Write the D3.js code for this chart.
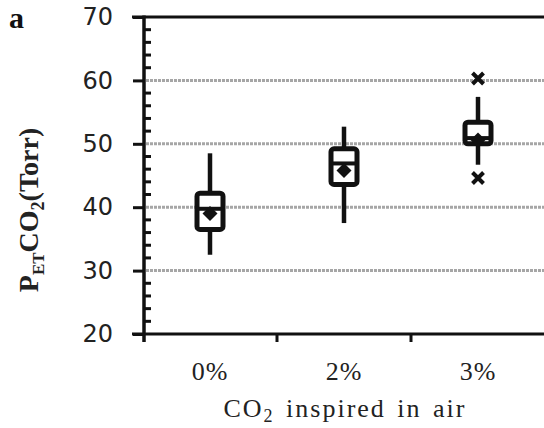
<!DOCTYPE html>
<html>
<head>
<meta charset="utf-8">
<script src="https://cdn.jsdelivr.net/npm/d3@7"></script>
<style>
  body { margin: 0; background: #fff; }
  svg { display: block; }
</style>
</head>
<body>
<div id="chart"></div>
<script>
// values (Torr)
var categories = ["0%", "2%", "3%"];
var whiskerLow = [32.5, 37.5, 46.7];
var q1 = [36.5, 43.6, 50.0];
var medians = [39.75, 46.9, 50.9];
var q3 = [42.2, 49.2, 53.4];
var whiskerHigh = [48.5, 52.7, 57.4];
var means = [39.0, 45.8, 50.6];
var outliers = [[], [], [60.3, 44.6]];
var yTicks = [20, 30, 40, 50, 60, 70];

var width = 544, height = 428;

var svg = d3.select("#chart").append("svg")
    .attr("width", width)
    .attr("height", height);

var y = d3.scaleLinear().domain([20, 70]).range([334, 17]);
var x = d3.scaleBand().domain(categories).range([143, 545]).padding(0);

// gridlines
svg.append("g").selectAll("line")
    .data(yTicks.filter(function(d) { return d > 20 && d < 70; }))
    .enter().append("line")
    .attr("x1", 146).attr("x2", width)
    .attr("y1", function(d) { return y(d); })
    .attr("y2", function(d) { return y(d); })
    .style("stroke", "#a6a6a6")
    .style("stroke-width", 3)
    .style("stroke-dasharray", "3,1");

// top border at 70
svg.append("line")
    .attr("x1", 132).attr("x2", width)
    .attr("y1", y(70)).attr("y2", y(70))
    .style("stroke", "#111").style("stroke-width", 3);

// y axis
var yAxis = d3.axisLeft(y).tickValues(yTicks).tickSize(11).tickPadding(20);
var yg = svg.append("g")
    .attr("transform", "translate(144,0)")
    .call(yAxis);
yg.select(".domain").remove();
yg.selectAll(".tick line").style("stroke", "#111").style("stroke-width", 3);
yg.selectAll(".tick text")
    .style("font-family", "'DejaVu Sans', sans-serif")
    .style("font-size", "24px")
    .style("font-weight", "normal")
    .style("fill", "#222");

// minor ticks inside
svg.append("g").selectAll("line")
    .data(d3.range(22, 70, 2).filter(function(d) { return d % 10 !== 0; }))
    .enter().append("line")
    .attr("x1", 144).attr("x2", 151)
    .attr("y1", function(d) { return y(d); })
    .attr("y2", function(d) { return y(d); })
    .style("stroke", "#111").style("stroke-width", 3);

svg.append("line")
    .attr("x1", 144).attr("x2", 144)
    .attr("y1", y(70) - 1.5).attr("y2", 342)
    .style("stroke", "#111").style("stroke-width", 3.5);

// x axis
svg.append("line")
    .attr("x1", 132).attr("x2", width)
    .attr("y1", y(20)).attr("y2", y(20))
    .style("stroke", "#111").style("stroke-width", 3);

svg.append("g").selectAll("line")
    .data(categories.slice(1))
    .enter().append("line")
    .attr("x1", function(d) { return x(d); })
    .attr("x2", function(d) { return x(d); })
    .attr("y1", y(20)).attr("y2", 342)
    .style("stroke", "#111").style("stroke-width", 3);

svg.append("g").selectAll("text")
    .data(categories)
    .enter().append("text")
    .attr("x", function(d) { return x(d) + x.bandwidth() / 2; })
    .attr("y", 380)
    .attr("text-anchor", "middle")
    .style("font-family", "'Liberation Serif', serif")
    .style("font-size", "26px")
    .style("letter-spacing", "1px")
    .style("fill", "#222")
    .text(function(d) { return d; });

// x title
var xt = svg.append("text")
    .attr("x", 345).attr("y", 417)
    .attr("text-anchor", "middle")
    .style("font-family", "'Liberation Serif', serif")
    .style("font-size", "26px")
    .style("letter-spacing", "2px")
    .style("word-spacing", "3px")
    .style("fill", "#222");
xt.append("tspan").text("CO");
xt.append("tspan").attr("dy", 5).style("font-size", "18px").text("2");
xt.append("tspan").attr("dy", -5).text(" inspired in air");

// y title
var yt = svg.append("text")
    .attr("transform", "translate(38,210) rotate(-90)")
    .attr("text-anchor", "middle")
    .style("font-family", "'Liberation Serif', serif")
    .style("font-size", "28px")
    .style("font-weight", "bold")
    .style("fill", "#222");
yt.append("tspan").text("P");
yt.append("tspan").attr("dy", 6).style("font-size", "17px").text("ET");
yt.append("tspan").attr("dy", -6).text("CO");
yt.append("tspan").attr("dy", 6).style("font-size", "18px").text("2");
yt.append("tspan").attr("dy", -6).text("(Torr)");

// panel letter
svg.append("text")
    .attr("x", 9).attr("y", 28)
    .style("font-family", "'Liberation Serif', serif")
    .style("font-size", "30px")
    .style("font-weight", "bold")
    .style("fill", "#111")
    .text("a");

// boxes
var boxes = svg.append("g").selectAll("g")
    .data(categories)
    .enter().append("g")
    .attr("transform", function(d) { return "translate(" + (x(d) + x.bandwidth() / 2) + ",0)"; });

boxes.append("line")
    .attr("x1", 0).attr("x2", 0)
    .attr("y1", function(d, i) { return y(whiskerHigh[i]); })
    .attr("y2", function(d, i) { return y(whiskerLow[i]); })
    .style("stroke", "#111").style("stroke-width", 4.5);

boxes.append("rect")
    .attr("x", -13).attr("width", 26)
    .attr("y", function(d, i) { return y(q3[i]); })
    .attr("height", function(d, i) { return y(q1[i]) - y(q3[i]); })
    .attr("rx", 3)
    .style("fill", "#fff")
    .style("stroke", "#111").style("stroke-width", 5);

boxes.append("line")
    .attr("x1", -11).attr("x2", 11)
    .attr("y1", function(d, i) { return y(medians[i]); })
    .attr("y2", function(d, i) { return y(medians[i]); })
    .style("stroke", "#111").style("stroke-width", 4);

boxes.append("path")
    .attr("d", function(d, i) {
        var c = y(means[i]), s = 7.5;
        return "M0," + (c - s) + "L" + s + "," + c + "L0," + (c + s) + "L" + (-s) + "," + c + "Z";
    })
    .style("fill", "#111");

// outliers
boxes.each(function(d, i) {
    d3.select(this).selectAll("path.out")
        .data(outliers[i])
        .enter().append("path")
        .attr("class", "out")
        .attr("d", function(v) {
            var c = y(v), s = 5.5;
            return "M" + (-s) + "," + (c - s) + "L" + s + "," + (c + s) +
                "M" + s + "," + (c - s) + "L" + (-s) + "," + (c + s);
        })
        .style("stroke", "#111").style("stroke-width", 4);
});
</script>
</body>
</html>
